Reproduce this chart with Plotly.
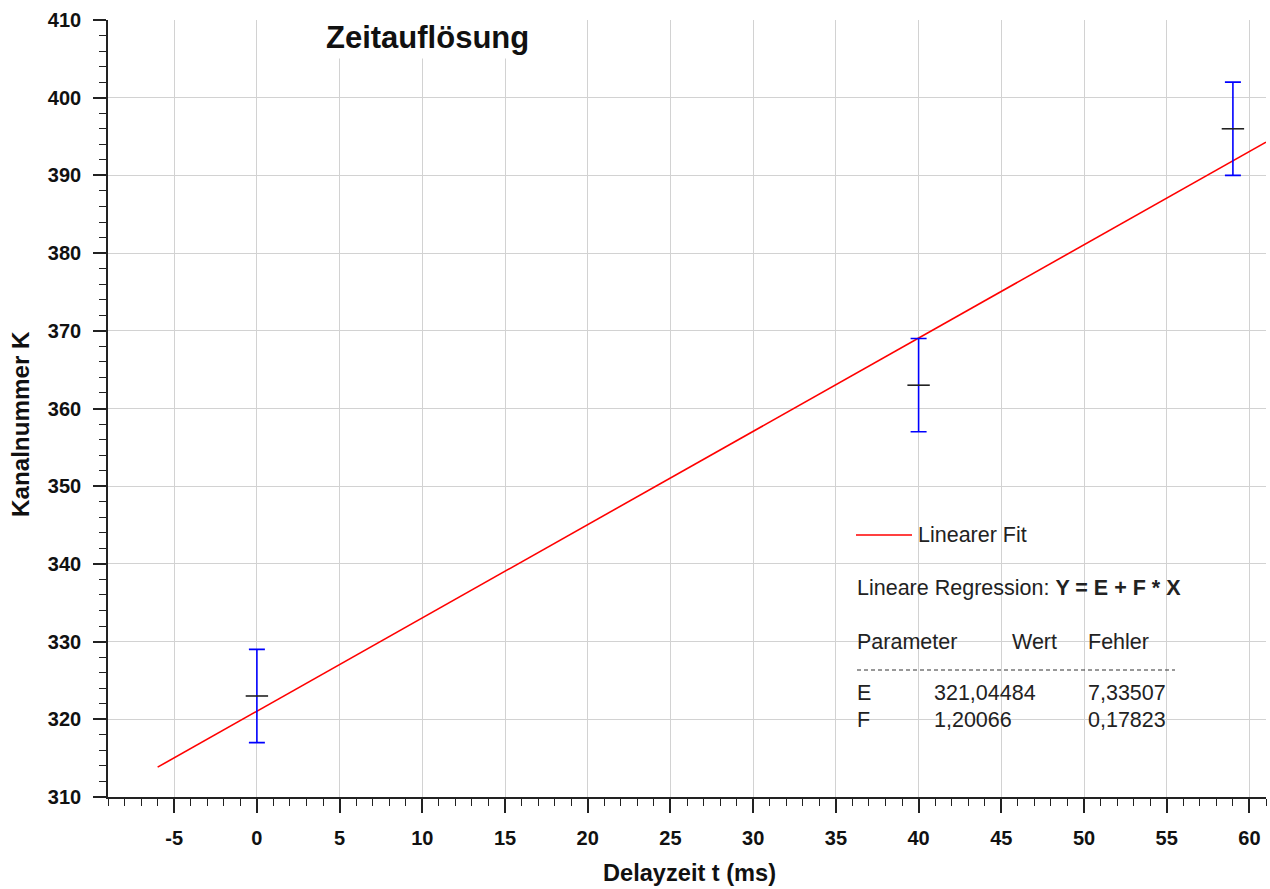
import plotly.graph_objects as go

# ---- data ----
delay_ms = [0, 40, 59]
kanal_k = [323, 363, 396]
kanal_err = [6, 6, 6]

fit_x = [-6, 61]
fit_y = [313.84, 394.28]

x_ticks = [-5, 0, 5, 10, 15, 20, 25, 30, 35, 40, 45, 50, 55, 60]
x_tick_text = ["-5", "0", "5", "10", "15", "20", "25", "30", "35", "40", "45", "50", "55", "60"]
y_ticks = [310, 320, 330, 340, 350, 360, 370, 380, 390, 400, 410]

param_names = ["E", "F"]
param_values = ["321,04484", "1,20066"]
param_errors = ["7,33507", "0,17823"]

FONT = "Liberation Sans, Arial, sans-serif"
W, H = 1270, 889
L, R, T, B = 108, 4, 20, 92
PW, PH = W - L - R, H - T - B


def px(xp):
    return (xp - L) / PW


def py(yp):
    return (H - B - yp) / PH


fig = go.Figure()

fig.add_trace(go.Scatter(
    x=fit_x, y=fit_y, mode="lines",
    line=dict(color="#ff0000", width=1.6),
    name="Linearer Fit", showlegend=False,
))

fig.add_trace(go.Scatter(
    x=delay_ms, y=kanal_k, mode="markers",
    marker=dict(symbol="line-ew", size=16, color="#222222",
                line=dict(color="#222222", width=1.6)),
    error_y=dict(type="data", array=kanal_err, visible=True,
                 color="#0000ff", thickness=1.6, width=8),
    showlegend=False,
))

axis_common = dict(
    showline=True, linecolor="#222222", linewidth=1.6,
    ticks="outside", tickcolor="#222222", tickwidth=1.6,
    showgrid=True, gridcolor="#d2d2d2", gridwidth=1.4,
    zeroline=False, automargin=False,
    tickfont=dict(family=FONT, size=20, color="#111111", weight="bold"),
    ticklabelstandoff=8,
)

fig.update_layout(
    width=W, height=H,
    margin=dict(l=L, r=R, t=T, b=B),
    paper_bgcolor="white", plot_bgcolor="white",
    showlegend=False,
    xaxis=dict(
        range=[-9, 61], tickvals=x_ticks, ticktext=x_tick_text, ticklen=14,
        minor=dict(dtick=1, ticklen=7, ticks="outside", tickcolor="#222222",
                   tickwidth=1.4, showgrid=False),
        **axis_common,
    ),
    yaxis=dict(
        range=[310, 410], tickvals=y_ticks, ticklen=13,
        minor=dict(dtick=2, ticklen=7, ticks="outside", tickcolor="#222222",
                   tickwidth=1.4, showgrid=False),
        **axis_common,
    ),
)

shapes = []
# hide top gridline
shapes.append(dict(type="rect", xref="paper", yref="paper", x0=0.002, x1=1, y0=0.997, y1=1.0,
                   fillcolor="white", line=dict(width=0), layer="between"))
# legend / result box background
shapes.append(dict(type="rect", xref="paper", yref="paper",
                   x0=px(852), x1=px(1213), y0=py(752), y1=py(500),
                   fillcolor="white", line=dict(width=0), layer="between"))
# legend line sample
shapes.append(dict(type="line", xref="paper", yref="paper",
                   x0=px(856), x1=px(912), y0=py(535), y1=py(535),
                   line=dict(color="#ff0000", width=1.6), layer="above"))
# dashed separator
shapes.append(dict(type="line", xref="paper", yref="paper",
                   x0=px(857), x1=px(1175), y0=py(670), y1=py(670),
                   line=dict(color="#333333", width=1.2, dash="4px,3px"), layer="above"))
fig.update_layout(shapes=shapes)

ann = []
ann.append(dict(text="<b>Zeitauflösung</b>", xref="paper", yref="paper",
                x=px(427), y=py(37), xanchor="center", yanchor="middle",
                showarrow=False, bgcolor="white", borderpad=3,
                font=dict(family=FONT, size=31, color="#111111")))
# axis titles
ann.append(dict(text="<b>Delayzeit t (ms)</b>", xref="paper", yref="paper",
                x=px(689), y=py(873), xanchor="center", yanchor="middle",
                showarrow=False, font=dict(family=FONT, size=23.6, color="#111111")))
ann.append(dict(text="<b>Kanalnummer K</b>", xref="paper", yref="paper",
                x=px(21), y=py(424), xanchor="center", yanchor="middle", textangle=-90,
                showarrow=False, font=dict(family=FONT, size=24.2, color="#111111")))


def txt(s, xp, yp, size=21.5):
    ann.append(dict(text=s, xref="paper", yref="paper", x=px(xp), y=py(yp),
                    xanchor="left", yanchor="middle", showarrow=False,
                    font=dict(family=FONT, size=size, color="#222222")))


txt("Linearer Fit", 916, 535)
txt("Lineare Regression: <b>Y = E + F * X</b>", 855, 588)
txt("Parameter", 855, 642)
txt("Wert", 1010, 642)
txt("Fehler", 1086, 642)
rows_y = [693, 720]
for name, val, err, yy in zip(param_names, param_values, param_errors, rows_y):
    txt(name, 855, yy)
    txt(val, 932, yy)
    txt(err, 1086, yy)

fig.update_layout(annotations=ann)

fig.write_html("out.html", config={"displayModeBar": False},
               post_script="document.body.style.margin='0px';document.body.style.overflow='hidden';")
